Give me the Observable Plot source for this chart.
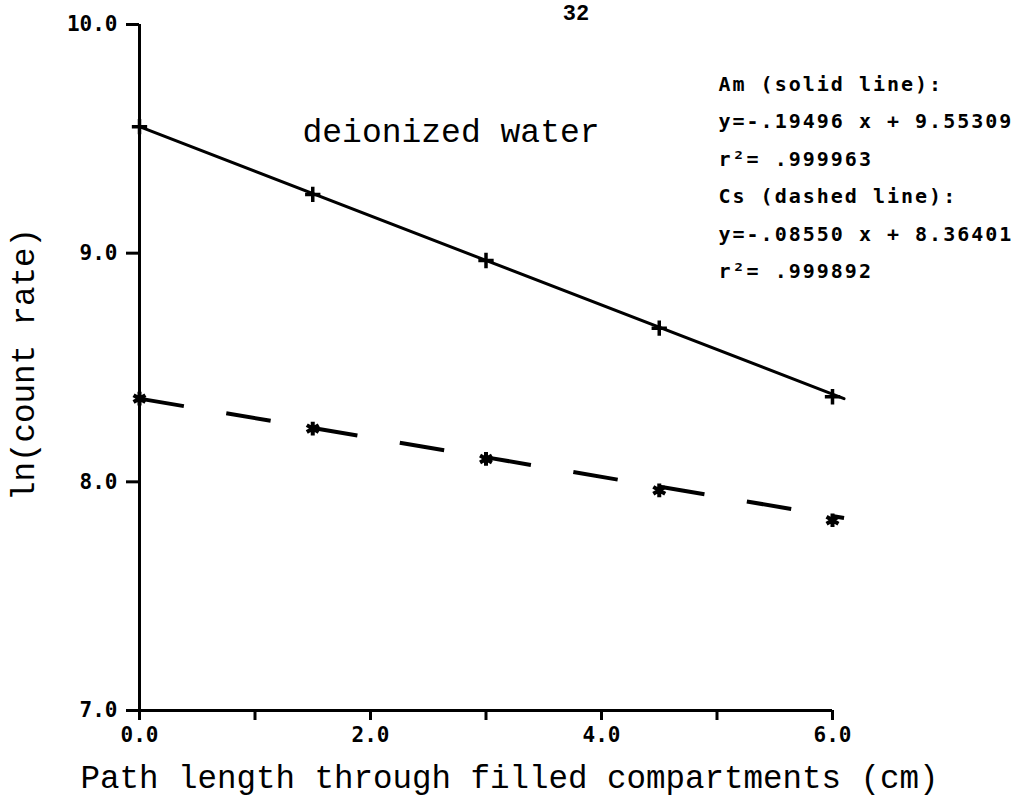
<!DOCTYPE html>
<html>
<head>
<meta charset="utf-8">
<script src="https://cdn.jsdelivr.net/npm/d3@7"></script>
<script src="https://cdn.jsdelivr.net/npm/@observablehq/plot@0.6"></script>
<style>
  body { margin: 0; background: #fff; }
  #chart svg { display: block; }
</style>
</head>
<body>
<div id="chart"></div>
<script>
// ---- data ----
const pathLength = [0, 1.5, 3.0, 4.5, 6.0];
const amValues = [9.553, 9.257, 8.968, 8.672, 8.372];
const csValues = [8.364, 8.233, 8.100, 7.963, 7.832];
const fitX = [0, 6.1];
const amFit = [9.553, 8.364];
const csFit = [8.364, 7.842];
const yTicks = [7, 8, 9, 10];
const yTickLabels = ["7.0", "8.0", "9.0", "10.0"];
const xTicks = [0, 1, 2, 3, 4, 5, 6];
const xTickLabels = ["0.0", "", "2.0", "", "4.0", "", "6.0"];
const equations = [
  "Am (solid line):",
  "y=-.19496 x + 9.55309",
  "r²= .999963",
  "Cs (dashed line):",
  "y=-.08550 x + 8.36401",
  "r²= .999892"
];
const annotation = "deionized water";
const pageNumber = "32";
const xTitle = "Path length through filled compartments (cm)";
const yTitle = "ln(count rate)";

const am = pathLength.map((x, i) => ({x, y: amValues[i]}));
const cs = pathLength.map((x, i) => ({x, y: csValues[i]}));
const amLine = fitX.map((x, i) => ({x, y: amFit[i]}));
const csLine = fitX.map((x, i) => ({x, y: csFit[i]}));

const mono = "'Liberation Mono', 'DejaVu Sans Mono', monospace";
const printer = "'DejaVu Sans Mono', monospace";

const chart = Plot.plot({
  width: 1020,
  height: 800,
  marginLeft: 139,
  marginRight: 188,
  marginTop: 24,
  marginBottom: 90,
  x: {domain: [0, 6]},
  y: {domain: [7, 10]},
  style: {fontFamily: printer, fontSize: "21px", fontWeight: "bold", color: "black", background: "white"},
  marks: [
    Plot.ruleX([0], {y1: 7, y2: 10, strokeWidth: 3}),
    Plot.ruleY([7], {x1: 0, x2: 6, strokeWidth: 3}),
    Plot.axisY({ticks: yTicks, tickSize: 13, tickPadding: 9, strokeWidth: 3,
      tickFormat: d => yTickLabels[yTicks.indexOf(d)], label: null,
      fontFamily: printer, fontSize: 21, fontWeight: "bold"}),
    Plot.axisX({ticks: xTicks, tickSize: 10, tickPadding: 7, strokeWidth: 3,
      tickFormat: d => xTickLabels[xTicks.indexOf(d)], label: null,
      fontFamily: printer, fontSize: 21, fontWeight: "bold"}),
    Plot.line(amLine, {x: "x", y: "y", stroke: "black", strokeWidth: 3}),
    Plot.line(csLine, {x: "x", y: "y", stroke: "black", strokeWidth: 4,
      strokeDasharray: "45,43", strokeLinecap: "butt"}),
    Plot.dot(am, {x: "x", y: "y", symbol: "plus", r: 5, stroke: "black", strokeWidth: 3.5}),
    Plot.dot(cs, {x: "x", y: "y", symbol: "asterisk", r: 6.5, stroke: "black", strokeWidth: 4}),
    Plot.text([annotation], {text: d => d, frameAnchor: "top-left", dx: 163, dy: 107,
      textAnchor: "start", lineAnchor: "middle", fontFamily: mono, fontSize: 33, fontWeight: "normal"}),
    Plot.text([equations.join("\n")], {text: d => d, frameAnchor: "top-left", dx: 579, dy: 148,
      textAnchor: "start", lineAnchor: "middle", lineHeight: 1.87,
      fontFamily: printer, fontSize: 20, fontWeight: "bold"}),
    Plot.text([xTitle], {text: d => d, frameAnchor: "bottom", dx: 23.5, dy: 67,
      textAnchor: "middle", lineAnchor: "middle", fontFamily: mono, fontSize: 32.5, fontWeight: "normal"}),
    Plot.text([yTitle], {text: d => d, frameAnchor: "left", dx: -116, dy: -3, rotate: -90,
      textAnchor: "middle", lineAnchor: "middle", fontFamily: mono, fontSize: 32.5, fontWeight: "normal"}),
    Plot.text([pageNumber], {text: d => d, frameAnchor: "top", dx: 90, dy: -12,
      textAnchor: "middle", lineAnchor: "middle", fontFamily: mono, fontSize: 22, fontWeight: "bold"})
  ]
});
// widen the printer-style equation text like the dot-matrix original
d3.select(chart).selectAll("text")
  .filter(function() { return this.textContent.includes("solid line"); })
  .attr("letter-spacing", "2px")
  .style("letter-spacing", "2px");
document.getElementById("chart").appendChild(chart);
</script>
</body>
</html>
